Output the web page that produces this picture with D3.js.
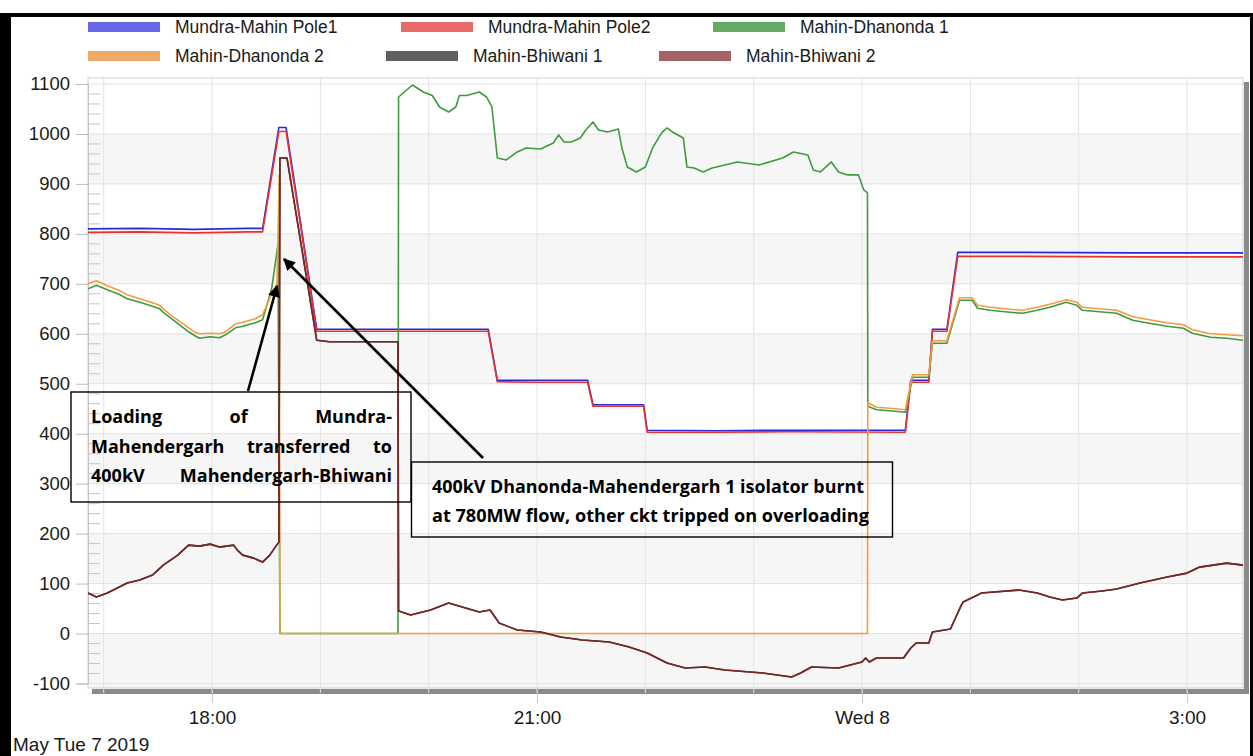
<!DOCTYPE html>
<html>
<head>
<meta charset="utf-8">
<script src="https://cdn.jsdelivr.net/npm/d3@7"></script>
<style>
  body { margin: 0; background: #fff; }
  svg { display: block; }
</style>
</head>
<body>
<svg id="chart" width="1253" height="756"></svg>
<script>
// Line flows in MW, read as ["HH:MM", value]; evening hours are 7 May, hours before noon roll to 8 May.
const pole1 = [
  ["16:51.3",810],["17:20",811],["17:50",809],["18:20",811],["18:28",811],["18:37",1013],["18:41",1013],
  ["18:58",609],["19:30",609],["20:00",609],["20:33",609],["20:38",507],["21:00",507],["21:28",507],
  ["21:31",458],["21:59",458],["22:01",407],["22:40",406],["23:20",407],["00:24",407],["00:27",507],
  ["00:37",507],["00:39",609],["00:47",609],["00:53",763],["01:30",763],["02:30",762],["03:31",762]
];
const pole2 = [
  ["16:51.3",803],["17:20",804],["17:50",802],["18:20",804],["18:28",804],["18:37",1005],["18:41",1005],
  ["18:58",605],["19:30",605],["20:00",605],["20:33",605],["20:38",504],["21:00",503],["21:28",503],
  ["21:31",455],["21:59",455],["22:01",403],["22:40",403],["23:20",404],["00:24",403],["00:27",503],
  ["00:37",503],["00:39",605],["00:47",605],["00:53",755],["01:30",755],["02:30",754],["03:31",754]
];
const dhanonda1 = [
  ["16:51.3",690],["16:56",697],["17:02",688],["17:09",678],["17:13",670],["17:20",663],["17:27",655],
  ["17:31",650],["17:33",643],["17:37",632],["17:42",618],["17:47",604],["17:51",595],["17:53",591],
  ["17:59",594],["18:04",592],["18:07",597],["18:13",612],["18:16",614],["18:24",622],["18:28",628],
  ["18:33",690],["18:36.5",778],["18:37.6",0],["19:43",0],["19:43.3",1074],["19:51",1098],["19:57",1084],
  ["20:02",1077],["20:06",1054],["20:11",1044],["20:15",1054],["20:17",1077],["20:21",1077],["20:28",1084],
  ["20:32",1074],["20:35",1054],["20:38",952],["20:43",948],["20:49",964],["20:54",972],["21:02",970],
  ["21:09",982],["21:12",998],["21:15",984],["21:19",984],["21:24",992],["21:27",1008],["21:31",1024],
  ["21:34",1008],["21:39",1004],["21:45",1010],["21:47",972],["21:50",934],["21:55",924],["22:00",934],
  ["22:04",972],["22:09",1002],["22:12",1012],["22:15",1004],["22:21",992],["22:23",934],["22:27",932],
  ["22:32",924],["22:37",932],["22:51",944],["23:03",938],["23:16",952],["23:22",964],["23:30",958],
  ["23:33",928],["23:37",924],["23:43",944],["23:47",924],["23:52",918],["23:58",918],["00:01",888],
  ["00:03",882],["00:03.2",455],["00:08",448],["00:12",447],["00:24",443],["00:28",513],["00:37",513],
  ["00:39",581],["00:47",581],["00:54",667],["01:01",667],["01:04",651],["01:11",647],["01:22",643],
  ["01:29",641],["01:37",647],["01:44",653],["01:53",663],["01:59",657],["02:02",647],["02:21",641],
  ["02:30",627],["02:39",621],["02:49",615],["02:58",611],["03:03",601],["03:13",593],["03:22",591],
  ["03:31",587]
];
const dhanonda2 = [
  ["16:51.3",700],["16:56",706],["17:02",696],["17:09",686],["17:13",678],["17:20",670],["17:27",662],
  ["17:31",657],["17:33",650],["17:37",638],["17:42",625],["17:47",612],["17:51",602],["17:53",600],
  ["17:59",601],["18:04",600],["18:07",603],["18:13",620],["18:16",622],["18:24",630],["18:28",638],
  ["18:33",680],["18:36",700],["18:37.2",917],["18:37.6",0],["00:03",0],["00:03.2",462],["00:08",453],
  ["00:12",452],["00:24",448],["00:28",518],["00:37",518],["00:39",586],["00:47",586],["00:54",672],
  ["01:01",672],["01:04",657],["01:11",653],["01:22",649],["01:29",647],["01:37",653],["01:44",659],
  ["01:53",668],["01:59",663],["02:02",653],["02:21",647],["02:30",634],["02:39",628],["02:49",622],
  ["02:58",618],["03:03",608],["03:13",600],["03:22",598],["03:31",596]
];
// both Bhiwani circuits carry the same flow throughout
const bhiwani = [
  ["16:51.3",81],["16:56",73],["17:02",81],["17:13",101],["17:20",107],["17:27",117],["17:33",137],
  ["17:41",157],["17:47",177],["17:53",175],["17:59",179],["18:04",173],["18:12",177],["18:14",167],
  ["18:17",157],["18:23",151],["18:28",143],["18:32",157],["18:35",173],["18:37",183],["18:37.6",952],
  ["18:41.5",952],["18:58",587],["19:05",584],["19:43",584],["19:43.3",45],["19:50",37],["20:01",47],
  ["20:11",61],["20:28",43],["20:34",47],["20:39",21],["20:49",7],["21:02",3],["21:13",-7],["21:25",-13],
  ["21:40",-17],["21:51",-27],["22:01",-39],["22:12",-59],["22:22",-69],["22:33",-67],["22:44",-73],
  ["23:05",-79],["23:21",-87],["23:26",-79],["23:32",-67],["23:47",-69],["00:00",-57],["00:02",-49],
  ["00:04",-57],["00:08",-49],["00:23",-49],["00:27",-29],["00:30",-19],["00:37",-19],["00:39",3],
  ["00:49",9],["00:55",57],["00:56",63],["01:04",77],["01:06",81],["01:27",87],["01:37",81],["01:44",73],
  ["01:51",67],["01:59",71],["02:02",81],["02:13",85],["02:21",89],["02:34",101],["02:49",113],
  ["03:00",121],["03:07",133],["03:22",141],["03:31",137]
];
const bhiwani1 = bhiwani;
const bhiwani2 = bhiwani;

const seriesNames = ["Mundra-Mahin Pole1","Mundra-Mahin Pole2","Mahin-Dhanonda 1",
                     "Mahin-Dhanonda 2","Mahin-Bhiwani 1","Mahin-Bhiwani 2"];
const seriesData = [pole1, pole2, dhanonda1, dhanonda2, bhiwani1, bhiwani2];
const lineColors = ["#2a2ad8","#e8322e","#3d9b3d","#f39c3e","#454545","#7a2424"];
const legendColors = ["#6767e8","#ea6a6a","#64a964","#eeaa66","#5f5f5f","#a86464"];

const yTicks = [-100,0,100,200,300,400,500,600,700,800,900,1000,1100];
const xTickTimes = ["18:00","21:00","00:00","03:00"];
const xTickLabels = ["18:00","21:00","Wed 8","3:00"];
const dateLabel = "May Tue 7 2019";

const note1 = [["Loading","of","Mundra-"],["Mahendergarh","transferred","to"],["400kV","Mahendergarh-Bhiwani"]];
const note2 = ["400kV Dhanonda-Mahendergarh 1 isolator burnt",
               "at 780MW flow, other ckt tripped on overloading"];

function toDate(s) {
  const [h, m] = s.split(":").map(Number);
  const day = h < 12 ? 8 : 7;
  return new Date(new Date(2019, 4, day, h, 0, 0).getTime() + m * 60000);
}

const svg = d3.select("#chart");
const plot = {left: 88, right: 1243, top: 78, bottom: 688};

const x = d3.scaleTime()
  .domain([toDate("16:51.3"), toDate("03:31")])
  .range([plot.left, plot.right]);
const y = d3.scaleLinear().domain([-100, 1100]).range([683.5, 84]);

// outer frame
svg.append("rect").attr("x", 0).attr("y", 13).attr("width", 11).attr("height", 743).attr("fill", "#000");
svg.append("rect").attr("x", 0).attr("y", 13).attr("width", 1253).attr("height", 4).attr("fill", "#000");
svg.append("rect").attr("x", 1250).attr("y", 13).attr("width", 3).attr("height", 743).attr("fill", "#000");

// plot shadow
svg.append("rect").attr("x", plot.left + 4).attr("y", plot.bottom + 1)
  .attr("width", plot.right - plot.left + 1).attr("height", 5).attr("fill", "#8a8a8a");
svg.append("rect").attr("x", plot.right + 1).attr("y", plot.top + 4)
  .attr("width", 5).attr("height", plot.bottom - plot.top + 2).attr("fill", "#8a8a8a");

// plot background and alternating bands
svg.append("rect").attr("x", plot.left).attr("y", plot.top)
  .attr("width", plot.right - plot.left).attr("height", plot.bottom - plot.top).attr("fill", "#fff");
const bandPairs = d3.range(0, yTicks.length - 1).filter(i => i % 2 === 0).map(i => [yTicks[i], yTicks[i + 1]]);
svg.append("g").selectAll("rect").data(bandPairs).join("rect")
  .attr("x", plot.left).attr("width", plot.right - plot.left)
  .attr("y", d => y(d[1])).attr("height", d => y(d[0]) - y(d[1]))
  .attr("fill", "#f6f6f6");
svg.append("rect").attr("x", plot.left).attr("width", plot.right - plot.left)
  .attr("y", y(-100)).attr("height", plot.bottom - y(-100)).attr("fill", "#f6f6f6");

// vertical hourly grid
const hours = d3.timeHour.every(1).range(x.domain()[0], x.domain()[1]);
svg.append("g").selectAll("line").data(hours).join("line")
  .attr("x1", d => x(d)).attr("x2", d => x(d))
  .attr("y1", plot.top).attr("y2", plot.bottom + 5)
  .attr("stroke", "#e4e4e4").attr("stroke-width", 1);

// horizontal grid
svg.append("g").selectAll("line").data(yTicks).join("line")
  .attr("x1", plot.left).attr("x2", plot.right)
  .attr("y1", d => y(d)).attr("y2", d => y(d))
  .attr("stroke", "#e2e2e2").attr("stroke-width", 1);

// minor y ticks
const minorY = d3.range(-100, 1101, 20).filter(v => v % 100 !== 0);
svg.append("g").selectAll("line").data(minorY).join("line")
  .attr("x1", plot.left).attr("x2", plot.left + 12)
  .attr("y1", d => y(d)).attr("y2", d => y(d))
  .attr("stroke", "#c4c4c4").attr("stroke-width", 1);

// plot border
svg.append("rect").attr("x", plot.left).attr("y", plot.top)
  .attr("width", plot.right - plot.left).attr("height", plot.bottom - plot.top)
  .attr("fill", "none").attr("stroke", "#d2d2d2").attr("stroke-width", 1);

// y axis
const yAxis = svg.append("g").attr("transform", `translate(${plot.left},0)`)
  .call(d3.axisLeft(y).tickValues(yTicks).tickSize(12).tickPadding(6).tickFormat(d => String(d)));
yAxis.select(".domain").attr("stroke", "#c4c4c4");
yAxis.selectAll(".tick line").attr("stroke", "#bdbdbd");
yAxis.selectAll(".tick text").attr("fill", "#1a1a1a")
  .style("font-family", "'Liberation Sans', Arial, sans-serif").style("font-size", "18.5px");

// x axis
const xTickDates = xTickTimes.map(toDate);
const xAxis = svg.append("g").attr("transform", `translate(0,${plot.bottom})`)
  .call(d3.axisBottom(x).tickValues(xTickDates).tickSize(15).tickPadding(8)
    .tickFormat((d, i) => xTickLabels[i]));
xAxis.select(".domain").remove();
xAxis.selectAll(".tick line").attr("stroke", "#c8c8c8");
xAxis.selectAll(".tick text").attr("fill", "#1a1a1a")
  .style("font-family", "'Liberation Sans', Arial, sans-serif").style("font-size", "19px");

svg.append("text").attr("x", 13).attr("y", 751).text(dateLabel)
  .attr("fill", "#1a1a1a").style("font-family", "'Liberation Sans', Arial, sans-serif").style("font-size", "19px");

// data lines
svg.append("clipPath").attr("id", "plotClip").append("rect")
  .attr("x", plot.left).attr("y", plot.top).attr("width", plot.right - plot.left).attr("height", plot.bottom - plot.top);
const line = d3.line().x(d => x(toDate(d[0]))).y(d => y(d[1]));
svg.append("g").attr("clip-path", "url(#plotClip)")
  .selectAll("path").data(seriesData).join("path")
  .attr("d", d => line(d))
  .attr("fill", "none")
  .attr("stroke", (d, i) => lineColors[i])
  .attr("stroke-width", 1.6)
  .attr("stroke-linejoin", "round");

// legend
const legendPos = [[88, 22], [401, 22], [713, 22], [88, 51], [386, 51], [659, 51]];
const legend = svg.append("g").selectAll("g").data(seriesNames).join("g")
  .attr("transform", (d, i) => `translate(${legendPos[i][0]},${legendPos[i][1]})`);
legend.append("rect").attr("width", 72).attr("height", 10).attr("y", 0)
  .attr("fill", (d, i) => legendColors[i]);
legend.append("text").attr("x", 87).attr("y", 11).text(d => d)
  .attr("fill", "#1a1a1a").style("font-family", "'Liberation Sans', Arial, sans-serif").style("font-size", "17.5px");

// annotations
const noteFont = "'Open Sans', 'Noto Sans', sans-serif";
const noteSize = "18px";
const defs = svg.append("defs");
defs.append("marker").attr("id", "arrowHead").attr("viewBox", "0 0 10 10")
  .attr("refX", 9).attr("refY", 5).attr("markerWidth", 16).attr("markerHeight", 12)
  .attr("markerUnits", "userSpaceOnUse").attr("orient", "auto")
  .append("path").attr("d", "M0,0 L10,5 L0,10 Z").attr("fill", "#000");

svg.append("rect").attr("x", 71).attr("y", 392).attr("width", 340).attr("height", 110)
  .attr("fill", "none").attr("stroke", "#000").attr("stroke-width", 1.4);
svg.append("rect").attr("x", 411.5).attr("y", 462).attr("width", 481).attr("height", 75)
  .attr("fill", "none").attr("stroke", "#000").attr("stroke-width", 1.4);

// justified note lines
const note1Base = [423, 453, 482];
const textLeft = 91, textRight = 392;
note1.forEach((words, li) => {
  const texts = words.map(w => svg.append("text").text(w).attr("y", note1Base[li])
    .attr("fill", "#000").style("font-family", noteFont).style("font-weight", "bold").style("font-size", noteSize));
  const widths = texts.map(t => t.node().getComputedTextLength());
  const gap = (textRight - textLeft - d3.sum(widths)) / (words.length - 1);
  let cx = textLeft;
  texts.forEach((t, k) => { t.attr("x", cx); cx += widths[k] + gap; });
});
const note2Base = [493, 522];
note2.forEach((s, i) => {
  svg.append("text").attr("x", 432).attr("y", note2Base[i]).text(s)
    .attr("textLength", i === 0 ? 432 : 437).attr("lengthAdjust", "spacingAndGlyphs")
    .attr("fill", "#000").style("font-family", noteFont).style("font-weight", "bold").style("font-size", noteSize);
});

svg.append("line").attr("x1", 248).attr("y1", 391).attr("x2", 277).attr("y2", 286)
  .attr("stroke", "#000").attr("stroke-width", 2.6).attr("marker-end", "url(#arrowHead)");
svg.append("line").attr("x1", 483).attr("y1", 458).attr("x2", 284).attr("y2", 259)
  .attr("stroke", "#000").attr("stroke-width", 2.6).attr("marker-end", "url(#arrowHead)");
</script>
</body>
</html>
